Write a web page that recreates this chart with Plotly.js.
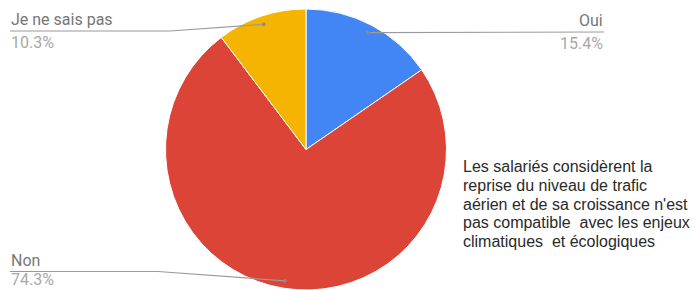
<!DOCTYPE html>
<html>
<head>
<meta charset="utf-8">
<script src="https://cdn.plot.ly/plotly-3.0.1.min.js"></script>
<style>html,body{margin:0;padding:0;background:#fff;}#chart{width:696px;height:290px;}</style>
</head>
<body>
<div id="chart"></div>
<script>
const labels = ["Oui", "Non", "Je ne sais pas"];
const values = [15.4, 74.3, 10.3];
const colors = ["#4285F4", "#DB4437", "#F4B400"];
const noteLines = [
  "Les salariés considèrent la",
  "reprise du niveau de trafic",
  "aérien et de sa croissance n'est",
  "pas compatible  avec les enjeux",
  "climatiques  et écologiques"
];

const W = 696, H = 290;
const cx = 306, cy = 150, R = 141;
const px = x => x / W;
const py = y => 1 - y / H;

const total = values.reduce((a, b) => a + b, 0);
let cum = 0;
const mids = values.map(v => { const m = (cum + v / 2) / total * 2 * Math.PI; cum += v; return m; });
const dots = mids.map(a => [cx + 0.94 * R * Math.sin(a), cy - 0.94 * R * Math.cos(a)]);

const place = [
  {side: "right", lineY: 32, edge: 604},
  {side: "left", lineY: 271.5, edge: 10, elbowX: 158},
  {side: "left", lineY: 31, edge: 10, elbowX: 170}
];

const shapes = [], annotations = [];
const lineCol = "#9a9a9a";
place.forEach((p, i) => {
  const d = dots[i];
  let pts;
  if (p.side === "right") pts = [[d[0], d[1]], [p.edge, p.lineY]];
  else pts = [[d[0], d[1]], [p.elbowX, p.lineY], [p.edge, p.lineY]];
  for (let k = 0; k < pts.length - 1; k++) {
    shapes.push({type: "line", xref: "paper", yref: "paper",
      x0: px(pts[k][0]), y0: py(pts[k][1]), x1: px(pts[k+1][0]), y1: py(pts[k+1][1]),
      line: {color: lineCol, width: 1.2}});
  }
  shapes.push({type: "circle", xref: "paper", yref: "paper",
    x0: px(d[0] - 1.8), x1: px(d[0] + 1.8), y0: py(d[1] + 1.8), y1: py(d[1] - 1.8),
    fillcolor: "#8a8a8a", line: {width: 0}});
  const xa = p.side === "right" ? "right" : "left";
  annotations.push({xref: "paper", yref: "paper", x: px(p.edge), y: py(p.lineY - 1),
    xanchor: xa, yanchor: "bottom", showarrow: false, text: labels[i],
    font: {family: "Roboto", size: 16, color: "#767676"}, borderpad: 0});
  const top = p.lineY + 1;
  const fits = top + 20 <= H;
  annotations.push({xref: "paper", yref: "paper", x: px(p.edge), y: fits ? py(top) : 0,
    xanchor: xa, yanchor: fits ? "top" : "bottom", showarrow: false, text: values[i].toFixed(1) + "%",
    font: {family: "Roboto", size: 16, color: "#a8a8a8"}, borderpad: 0});
});

noteLines.forEach((t, k) => {
  annotations.push({xref: "paper", yref: "paper", x: px(462), y: py(166.5 + k * 18.8),
    xanchor: "left", yanchor: "middle", align: "left", showarrow: false, text: t,
    font: {family: "Liberation Sans", size: 16, color: "#2a2a2a"}, borderpad: 0});
});

const data = [{
  type: "pie", labels: labels, values: values, sort: false, direction: "clockwise",
  rotation: 0, textinfo: "none", hoverinfo: "none",
  marker: {colors: colors, line: {color: "#ffffff", width: 1}},
  domain: {x: [px(cx - R), px(cx + R)], y: [Math.max(0, py(cy + R)), py(cy - R)]}
}];

const layout = {
  width: W, height: H, margin: {l: 0, r: 0, t: 0, b: 0},
  paper_bgcolor: "#ffffff", showlegend: false,
  shapes: shapes, annotations: annotations
};

Plotly.newPlot("chart", data, layout, {staticPlot: true, displayModeBar: false});
</script>
</body>
</html>
